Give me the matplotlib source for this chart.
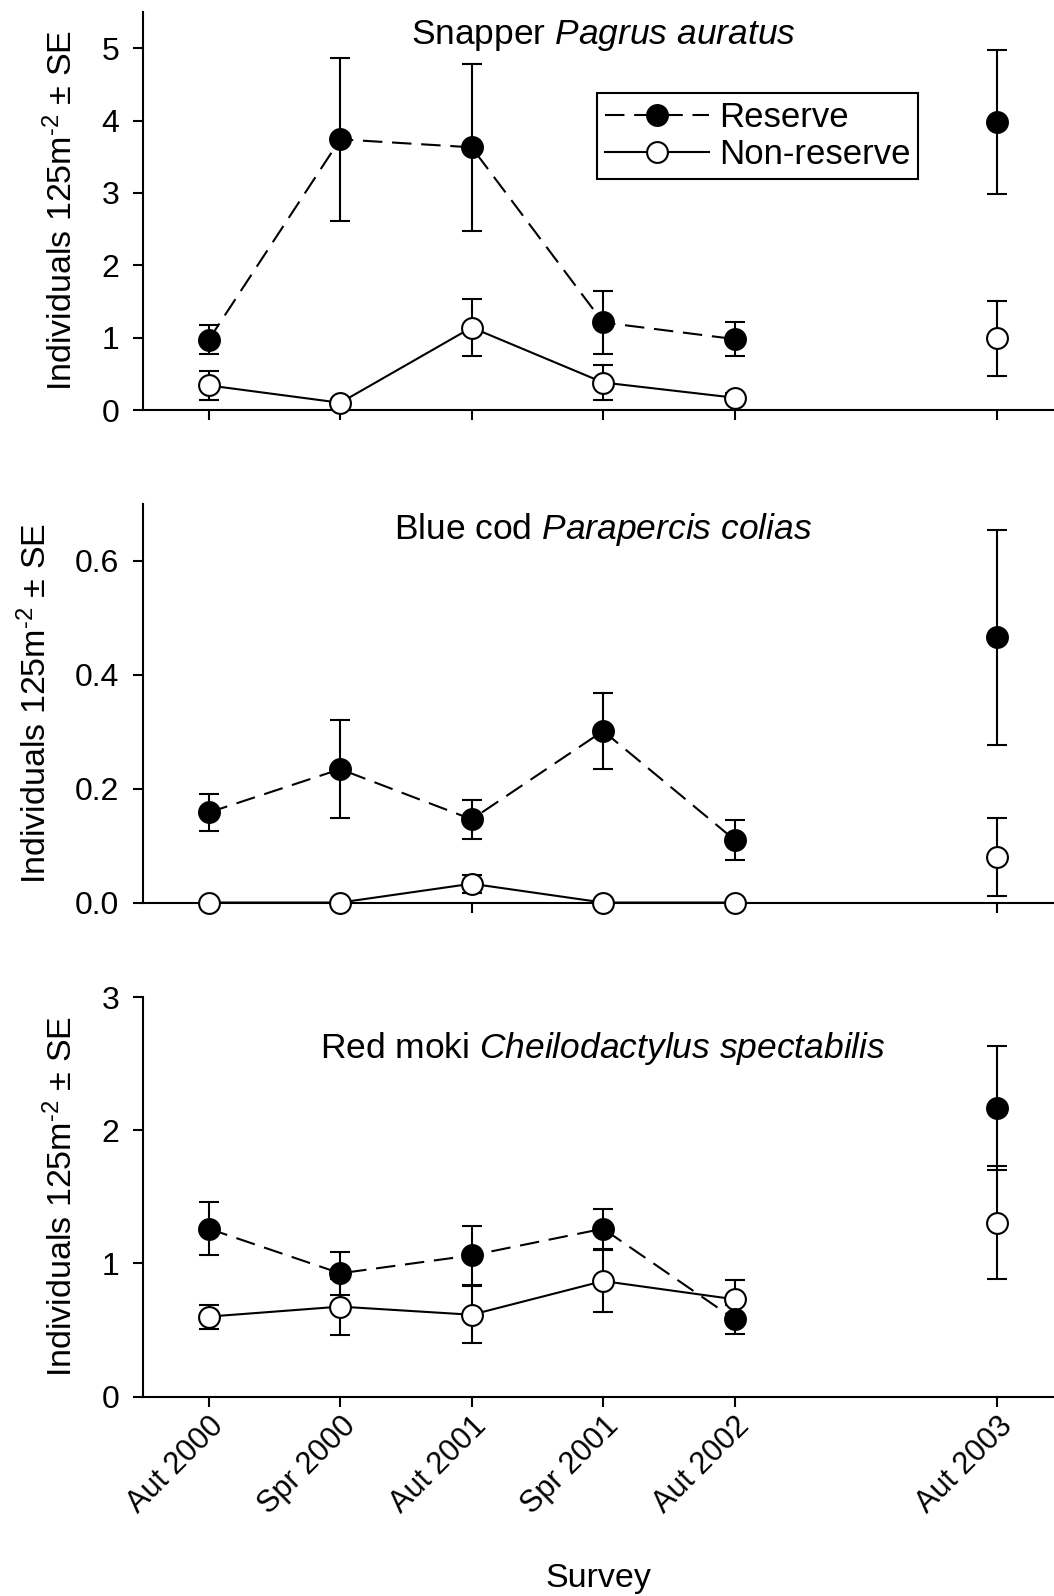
import matplotlib
matplotlib.use("Agg")
import matplotlib.pyplot as plt
import numpy as np

plt.rcParams['font.family'] = ['Liberation Sans', 'DejaVu Sans']
plt.rcParams['mathtext.fontset'] = 'custom'
plt.rcParams['mathtext.rm'] = 'Liberation Sans'
plt.rcParams['mathtext.it'] = 'Liberation Sans:italic'
plt.rcParams['lines.scale_dashes'] = False

surveys = ['Aut 2000', 'Spr 2000', 'Aut 2001', 'Spr 2001', 'Aut 2002', 'Aut 2003']
survey_pos = [0, 1, 2, 3, 4, 6]

snapper_res = [0.97, 3.74, 3.63, 1.21, 0.98, 3.98]
snapper_res_se = [0.20, 1.13, 1.15, 0.43, 0.23, 0.99]
snapper_non = [0.34, 0.10, 1.14, 0.38, 0.17, 0.99]
snapper_non_se = [0.20, 0.04, 0.39, 0.24, 0.06, 0.52]

bluecod_res = [0.158, 0.234, 0.146, 0.301, 0.110, 0.465]
bluecod_res_se = [0.033, 0.086, 0.034, 0.066, 0.035, 0.188]
bluecod_non = [0.0, 0.0, 0.033, 0.0, 0.0, 0.080]
bluecod_non_se = [0.0, 0.0, 0.016, 0.0, 0.0, 0.068]

moki_res = [1.26, 0.925, 1.06, 1.26, 0.58, 2.165]
moki_res_se = [0.20, 0.16, 0.22, 0.15, 0.11, 0.465]
moki_non = [0.60, 0.675, 0.614, 0.867, 0.73, 1.305]
moki_non_se = [0.09, 0.21, 0.214, 0.235, 0.147, 0.425]

titles = ['Snapper $\\it{Pagrus\\ auratus}$',
          'Blue cod $\\it{Parapercis\\ colias}$',
          'Red moki $\\it{Cheilodactylus\\ spectabilis}$']
ylims = [(0, 5.5), (0, 0.7), (0, 3)]
yticks = [[0, 1, 2, 3, 4, 5], [0.0, 0.2, 0.4, 0.6], [0, 1, 2, 3]]
title_y = [0.94, 0.934, 0.87]

LW = 1.5
MS = 15
DASH = (0, (14, 7))


def draw_panel(ax, res, res_se, non, non_se):
    x = np.array(survey_pos)
    ax.errorbar(x, non, yerr=non_se, fmt='none', ecolor='k', elinewidth=LW,
                capsize=7, capthick=LW, zorder=2, clip_on=False)
    ax.errorbar(x, res, yerr=res_se, fmt='none', ecolor='k', elinewidth=LW,
                capsize=7, capthick=LW, zorder=2, clip_on=False)
    h_non, = ax.plot(x[:5], non[:5], color='k', lw=LW, marker='o', ms=MS,
                     mfc='white', mec='k', mew=LW, zorder=3, clip_on=False)
    ax.plot(x[5:], non[5:], ls='none', marker='o', ms=MS, mfc='white',
            mec='k', mew=LW, zorder=3, clip_on=False)
    h_res, = ax.plot(x[:5], res[:5], color='k', lw=LW, ls=DASH, marker='o',
                     ms=MS, mfc='k', mec='k', mew=LW, zorder=4, clip_on=False)
    ax.plot(x[5:], res[5:], ls='none', marker='o', ms=MS, mfc='k',
            mec='k', mew=LW, zorder=4, clip_on=False)
    return h_res, h_non


fig = plt.figure(figsize=(10.54, 15.96), dpi=100)
rects = [[0.1357, 0.7431, 0.8643, 0.2494],
         [0.1357, 0.4345, 0.8643, 0.2500],
         [0.1357, 0.1250, 0.8643, 0.2503]]
data = [(snapper_res, snapper_res_se, snapper_non, snapper_non_se),
        (bluecod_res, bluecod_res_se, bluecod_non, bluecod_non_se),
        (moki_res, moki_res_se, moki_non, moki_non_se)]

axes = []
for i in range(3):
    ax = fig.add_axes(rects[i])
    h_res, h_non = draw_panel(ax, *data[i])
    ax.set_xlim(-0.5, 6.43)
    ax.set_ylim(*ylims[i])
    ax.set_yticks(yticks[i])
    if i == 1:
        ax.set_yticklabels(['%.1f' % v for v in yticks[i]])
    ax.set_xticks(survey_pos)
    ax.spines['top'].set_visible(False)
    ax.spines['right'].set_visible(False)
    for s in ['left', 'bottom']:
        ax.spines[s].set_linewidth(LW)
    ax.tick_params(axis='both', direction='out', length=7, width=LW)
    ax.tick_params(axis='y', labelsize=23, pad=10)
    ax.tick_params(axis='x', labelsize=22)
    ax.set_ylabel('Individuals 125m$^{\u2010 2}$ \u00b1 SE', fontsize=24.5, labelpad=16)
    ax.text(3, title_y[i], titles[i], transform=ax.get_xaxis_transform(),
            ha='center', va='center', fontsize=25.5)
    if i < 2:
        ax.set_xticklabels([])
    else:
        ax.set_xticklabels(surveys, rotation=45, ha='right', va='top',
                           rotation_mode='anchor')
        ax.set_xlabel('Survey', fontsize=24.5, labelpad=31)
    if i == 0:
        leg = ax.legend([h_res, h_non], ['Reserve', 'Non-reserve'],
                        loc='upper right', bbox_to_anchor=(0.851, 0.796),
                        borderaxespad=0, fontsize=25, handlelength=3.0,
                        handletextpad=0.3, labelspacing=0.12, borderpad=0.22,
                        fancybox=False, framealpha=1)
        leg.get_frame().set_edgecolor('k')
        leg.get_frame().set_linewidth(LW)
    axes.append(ax)

fig.savefig('out.png', dpi=100)
